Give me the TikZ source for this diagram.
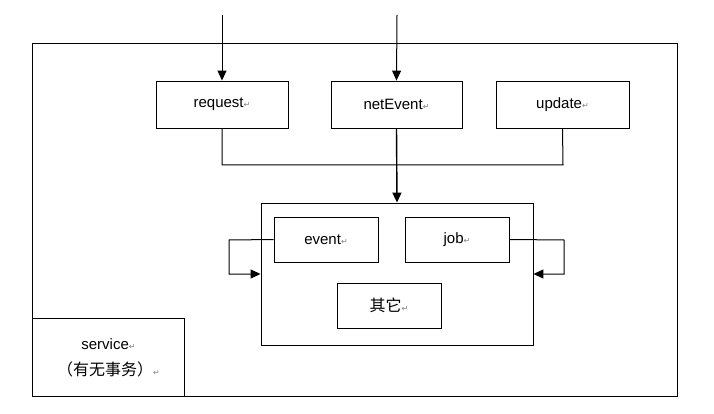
\documentclass[tikz,border=0pt]{standalone}
\usepackage{fontspec}
\setmainfont{Liberation Sans}
\newfontfamily\cjk{Noto Sans CJK SC}
\newfontfamily\symfont{DejaVu Sans}
\usetikzlibrary{arrows.meta}
\newcommand{\pmark}{{\symfont\color{gray}\fontsize{8}{8}\selectfont ↵}}
\newcommand{\zh}[1]{{\cjk\fontsize{16}{18}\selectfont #1}}
\begin{document}
\begin{tikzpicture}[x=1pt,y=-1pt,
  box/.style={draw,line width=0.9pt,inner sep=0pt},
  conn/.style={line width=1pt},
  arr/.style={conn,-{Triangle[length=10pt,width=9pt]}},
  lbl/.style={font=\fontsize{15}{17}\selectfont}]
\useasboundingbox (0,0) rectangle (714,414);
\draw[box] (32,43) rectangle (677,396);
\node[box,minimum width=152pt,minimum height=78pt,anchor=north west,lbl,align=center] (svc) at (32,318) {service\pmark\\[9pt]\zh{（有无事务）}\pmark};
\node[box,minimum width=132pt,minimum height=47pt,lbl] (req) at (222,104.5) {request\pmark};
\node[box,minimum width=131pt,minimum height=47pt,lbl] (net) at (396.5,104.5) {netEvent\pmark};
\node[box,minimum width=133pt,minimum height=47pt,lbl] (upd) at (562.5,104.5) {update\pmark};
\node[box,minimum width=272pt,minimum height=142pt] (core) at (397,274) {};
\node[box,minimum width=104pt,minimum height=45pt,lbl] (evt) at (326,239.5) {event\pmark};
\node[box,minimum width=104pt,minimum height=45pt,lbl] (job) at (457,239.5) {job\pmark};
\node[box,minimum width=104pt,minimum height=45pt,lbl] (oth) at (389,305.5) {\zh{其它}\pmark};
\coordinate (in1) at (222,15);
\coordinate (in2) at (397,15);
\draw[arr] (in1) -- (req.north);
\draw[arr] (in2) -- (net.north);
\draw[conn] (req.south) |- (563,165) -- (upd.south);
\draw[arr,line width=1.4pt] (net.south) -- (core.north);
\draw[arr] (evt.west) -- (229,240) -- (229,274) -- (core.west);
\draw[arr] (job.east) -- (564,240) -- (564,274) -- (core.east);
\end{tikzpicture}
\end{document}
